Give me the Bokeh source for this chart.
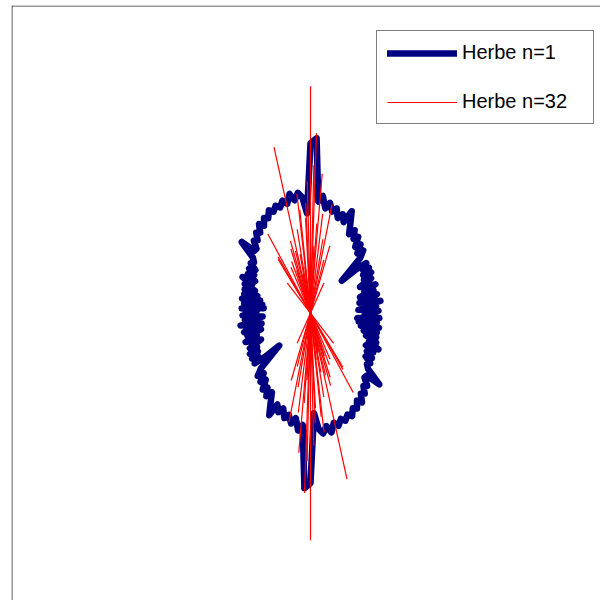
import numpy as np
from bokeh.plotting import figure
from bokeh.models import Range1d, Span, Legend, LegendItem
from bokeh.embed import file_html
from bokeh.resources import INLINE

# Herbe n=1 : axial rose, radius for theta = 0..178 deg (mirrored to 180..358)
theta_half_deg = list(range(0, 180, 2))
r_half = [58, 68, 48, 66, 56, 71, 50, 64, 69, 52,
          67, 58, 71, 62, 56, 70, 63, 73, 65, 74,
          68, 75, 62, 45, 74, 82, 76, 85, 80, 90,
          86, 94, 88, 98, 110, 97, 104, 99, 108, 104,
          112, 106, 118, 112, 175, 170, 100, 116, 121, 114,
          121, 112, 116, 110, 113, 108, 111, 104, 106, 99,
          103, 95, 97, 90, 92, 84, 84, 99, 80, 76,
          78, 70, 76, 68, 74, 64, 77, 65, 72, 60,
          70, 56, 69, 52, 70, 49, 67, 47, 69, 54]

# Herbe n=32 : axial orientations (deg) and half-lengths
red_angle_deg = [90.0, 102.4, 88.1, 85.2, 78.8, 118.3, 95.9, 91.4, 87.0, 105.5,
                 121.0, 76.0, 103.6, 127.5, 66.0, 97.0, 120.0, 107.0, 93.0, 99.0,
                 83.0, 110.0, 113.0, 100.0, 88.7, 92.5, 80.5, 96.5, 101.0, 86.0,
                 108.0, 74.0]
red_len = [227, 170, 180, 140, 111, 90, 104, 132, 67, 75,
           63, 55, 64, 38, 33, 47, 65, 67, 95, 85,
           100, 55, 50, 60, 148, 110, 75, 120, 40, 90,
           45, 70]

legend_labels = ["Herbe n=1", "Herbe n=32"]

# full closed curve
th = np.deg2rad(np.array(theta_half_deg + [t + 180 for t in theta_half_deg] + [theta_half_deg[0]]))
rr = np.array(r_half + r_half + [r_half[0]], dtype=float)
cx = rr * np.cos(th)
cy = rr * np.sin(th)

ra = np.deg2rad(np.array(red_angle_deg))
rl = np.array(red_len, dtype=float)
x1 = rl * np.cos(ra)
y1 = rl * np.sin(ra)

W, H = 600, 600
p = figure(width=W, height=H, output_backend="svg", toolbar_location=None,
           x_range=Range1d(-299, 290), y_range=Range1d(-287.3, 307.7),
           min_border_left=11, min_border_right=0, min_border_top=5, min_border_bottom=0)
p.axis.visible = False
p.grid.visible = False
p.outline_line_color = None
p.background_fill_color = "white"
p.border_fill_color = "white"

NAVY = "#000080"
navy = p.line(cx, cy, line_color=NAVY, line_width=6.5, line_join="round", line_cap="round")
red = p.segment(x0=-x1, y0=-y1, x1=x1, y1=y1, line_color="#ff0000", line_width=1.2)

p.add_layout(Span(location=p.x_range.start + 0.5, dimension="height", line_color="#333333", line_width=1))
p.add_layout(Span(location=p.y_range.end - 0.5, dimension="width", line_color="#333333", line_width=1))

legend = Legend(items=[LegendItem(label=legend_labels[0], renderers=[navy]),
                       LegendItem(label=legend_labels[1], renderers=[red])],
                location=(365, 476), orientation="vertical")
legend.border_line_color = "black"
legend.border_line_width = 1
legend.background_fill_color = "white"
legend.background_fill_alpha = 1.0
legend.label_text_font = "Liberation Sans"
legend.label_text_font_size = "20px"
legend.label_text_color = "black"
legend.glyph_width = 70
legend.glyph_height = 20
legend.label_height = 20
legend.label_width = 121
legend.label_standoff = 5
legend.spacing = 26
legend.padding = 10
legend.margin = 0
p.add_layout(legend)

open("out.html", "w").write(file_html(p, INLINE))
